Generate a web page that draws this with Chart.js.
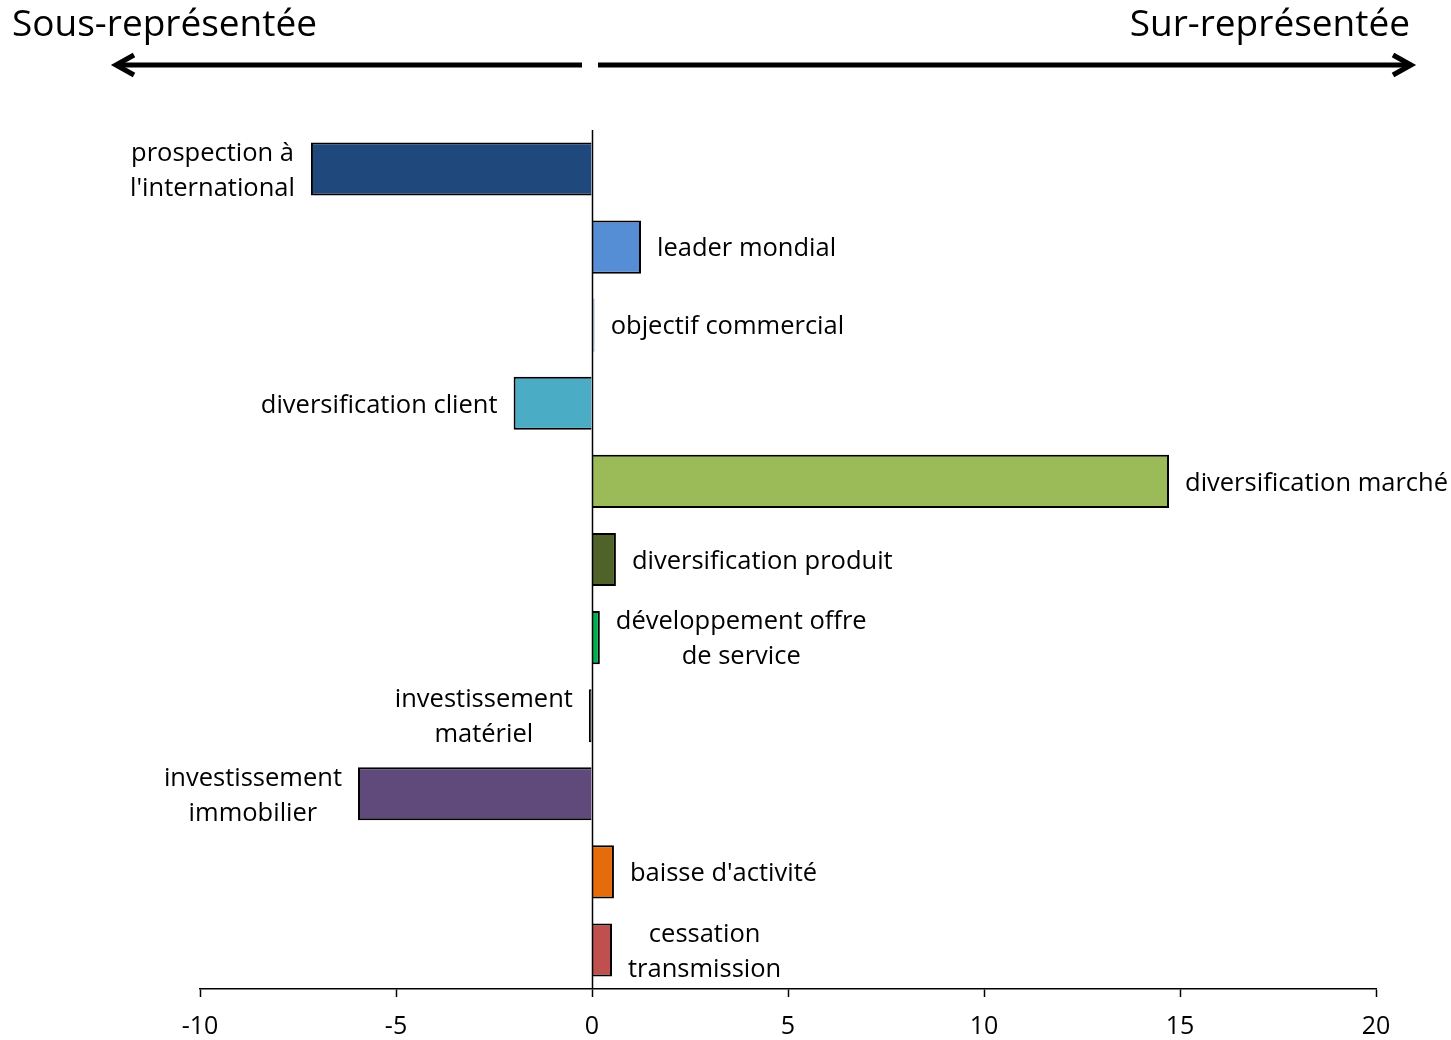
<!DOCTYPE html>
<html lang="fr">
<head>
<meta charset="utf-8">
<title>Sous / Sur-représentation des projets</title>
<script src="https://cdn.jsdelivr.net/npm/chart.js@4.4.1/dist/chart.umd.min.js"></script>
<style>
  html, body { margin: 0; padding: 0; background: #ffffff; }
  #wrap { position: relative; width: 1451px; height: 1040px; }
</style>
</head>
<body>
<div id="wrap"><canvas id="projetsChart"></canvas></div>
<script>
/* ============================================
   DATA
   ============================================ */
const categories = [
  ['prospection à', "l'international"],
  ['leader mondial'],
  ['objectif commercial'],
  ['diversification client'],
  ['diversification marché'],
  ['diversification produit'],
  ['développement offre', 'de service'],
  ['investissement', 'matériel'],
  ['investissement', 'immobilier'],
  ["baisse d'activité"],
  ['cessation', 'transmission']
];
const ecarts = [-7.17, 1.25, 0.07, -2.0, 14.72, 0.61, 0.2, -0.08, -5.97, 0.56, 0.51];
const barColors = [
  '#1F497D', '#558ED5', '#B3C5DE', '#4BACC6', '#9BBB59', '#4F6228',
  '#00B050', '#262626', '#604A7B', '#E46C0A', '#C0504D'
];
// the tiny "objectif commercial" bar has no dark outline
const borderColors = barColors.map((c, i) => (i === 2 ? c : '#000000'));
const xTicks = [-10, -5, 0, 5, 10, 15, 20];
const leftTitle = 'Sous-représentée';
const rightTitle = 'Sur-représentée';

const FONT = '"Open Sans", "Noto Sans", sans-serif';

/* ============================================
   PLUGINS
   ============================================ */
// Vertical line at zero
const zeroLine = {
  id: 'zeroLine',
  afterDatasetsDraw(chart) {
    const { ctx, chartArea, scales } = chart;
    const x = Math.round(scales.x.getPixelForValue(0)) + 0.5;
    ctx.save();
    ctx.strokeStyle = '#000000';
    ctx.lineWidth = 1.5;
    ctx.beginPath();
    ctx.moveTo(x, chartArea.top);
    ctx.lineTo(x, chartArea.bottom);
    ctx.stroke();
    ctx.restore();
  }
};

// Category names written next to the end of each bar
const barLabels = {
  id: 'barLabels',
  afterDatasetsDraw(chart) {
    const { ctx } = chart;
    const meta = chart.getDatasetMeta(0);
    ctx.save();
    ctx.font = '25.5px ' + FONT;
    ctx.fillStyle = '#000000';
    ctx.textBaseline = 'middle';
    ctx.textAlign = 'center';
    const lineH = 35;
    meta.data.forEach((bar, i) => {
      const lines = categories[i];
      const w = Math.max(...lines.map(l => ctx.measureText(l).width));
      const gap = 16;
      const cx = ecarts[i] >= 0 ? bar.x + gap + w / 2 : bar.x - gap - w / 2;
      const y0 = bar.y + 2 - (lines.length - 1) * lineH / 2;
      lines.forEach((l, k) => ctx.fillText(l, cx, y0 + k * lineH));
    });
    ctx.restore();
  }
};

// Arrows and titles above the plot
const header = {
  id: 'header',
  afterDraw(chart) {
    const { ctx, scales } = chart;
    const x0 = scales.x.getPixelForValue(0);
    const y = 65;
    ctx.save();
    ctx.strokeStyle = '#000000';
    ctx.lineWidth = 5;
    ctx.lineCap = 'butt';
    ctx.lineJoin = 'miter';

    // left arrow
    ctx.beginPath();
    ctx.moveTo(x0 - 10, y);
    ctx.lineTo(116, y);
    ctx.stroke();
    ctx.beginPath();
    ctx.moveTo(134, y - 10);
    ctx.lineTo(116, y);
    ctx.lineTo(134, y + 10);
    ctx.stroke();

    // right arrow
    ctx.beginPath();
    ctx.moveTo(x0 + 6, y);
    ctx.lineTo(1411, y);
    ctx.stroke();
    ctx.beginPath();
    ctx.moveTo(1393, y - 10);
    ctx.lineTo(1411, y);
    ctx.lineTo(1393, y + 10);
    ctx.stroke();

    ctx.fillStyle = '#000000';
    ctx.font = '37px ' + FONT;
    ctx.textBaseline = 'alphabetic';
    ctx.textAlign = 'left';
    ctx.fillText(leftTitle, 12, 36);
    ctx.textAlign = 'right';
    ctx.fillText(rightTitle, 1410, 36);
    ctx.restore();
  }
};

/* ============================================
   CHART
   ============================================ */
const canvas = document.getElementById('projetsChart');
canvas.width = 1451;
canvas.height = 1040;

new Chart(canvas.getContext('2d'), {
  type: 'bar',
  data: {
    labels: categories,
    datasets: [{
      data: ecarts,
      backgroundColor: barColors,
      borderColor: borderColors,
      borderWidth: 2,
      categoryPercentage: 1,
      barPercentage: 0.68
    }]
  },
  options: {
    indexAxis: 'y',
    responsive: false,
    animation: false,
    layout: {
      padding: { left: 200, right: 75, top: 130, bottom: 0 }
    },
    plugins: {
      legend: { display: false },
      tooltip: { enabled: false }
    },
    scales: {
      x: {
        min: xTicks[0],
        max: xTicks[xTicks.length - 1],
        afterBuildTicks(axis) {
          axis.ticks = xTicks.map(v => ({ value: v }));
        },
        afterFit(axis) {
          axis.height = 51;
        },
        border: { display: true, color: '#000000', width: 1.5 },
        grid: {
          drawOnChartArea: false,
          drawTicks: true,
          tickLength: 8,
          tickWidth: 1.5,
          color: '#000000'
        },
        ticks: {
          color: '#000000',
          padding: 15,
          maxRotation: 0,
          font: { family: FONT, size: 25 }
        }
      },
      y: {
        display: false
      }
    }
  },
  plugins: [zeroLine, barLabels, header]
});
</script>
</body>
</html>
